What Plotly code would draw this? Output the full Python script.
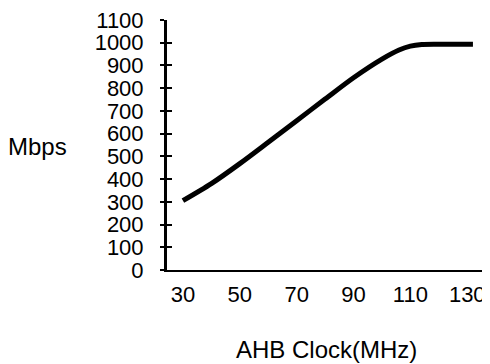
import plotly.graph_objects as go

clock_mhz = [30, 40, 50, 60, 70, 80, 90, 100, 106, 110, 114, 120, 132]
mbps = [305, 380, 468, 562, 657, 752, 846, 928, 968, 985, 992, 993, 993]

x_ticks = [30, 50, 70, 90, 110, 130]
y_ticks = list(range(0, 1101, 100))

FONT = "Liberation Sans, Arial, sans-serif"

fig = go.Figure()
fig.add_trace(go.Scatter(x=clock_mhz, y=mbps, mode="lines",
                         line=dict(color="black", width=5, shape="spline", smoothing=0.8),
                         showlegend=False, hoverinfo="skip"))
# invisible trace on overlaid axis so inner tick marks render
fig.add_trace(go.Scatter(x=clock_mhz, y=mbps, mode="lines", yaxis="y2",
                         line=dict(color="rgba(0,0,0,0)", width=0),
                         showlegend=False, hoverinfo="skip"))

# page body has an 8px margin, so the figure is sized/offset accordingly
fig.update_layout(
    width=482, height=356,
    margin=dict(l=159, r=0, t=9, b=94),
    paper_bgcolor="white", plot_bgcolor="white",
    font=dict(family=FONT, size=22, color="black"),
    xaxis=dict(range=[24.4, 138], tickvals=x_ticks, ticktext=[str(v) for v in x_ticks],
               showgrid=False, zeroline=False, showline=True, linecolor="black",
               linewidth=2, ticks="", ticklabelstandoff=4, ticklabeloverflow="allow",
               tickfont=dict(size=22)),
    yaxis=dict(range=[0, 1100], tickvals=y_ticks, ticktext=[str(v) for v in y_ticks],
               showgrid=False, zeroline=False, showline=True, linecolor="black",
               linewidth=3, ticks="outside", ticklen=4, tickwidth=2, tickcolor="black",
               ticklabelstandoff=12, ticklabeloverflow="allow", tickfont=dict(size=22)),
    yaxis2=dict(range=[0, 1100], tickvals=y_ticks, overlaying="y", side="left",
                showgrid=False, zeroline=False, showline=False, ticks="inside",
                ticklen=5, tickwidth=2, tickcolor="black", showticklabels=False),
    annotations=[
        dict(text="Mbps", x=-0.402, y=0.494, xref="paper", yref="paper",
             showarrow=False, xanchor="center", yanchor="middle", font=dict(size=24)),
        dict(text="AHB Clock(MHz)", x=0.495, y=-0.316, xref="paper", yref="paper",
             showarrow=False, xanchor="center", yanchor="middle", font=dict(size=24)),
    ],
)

fig.write_html("out.html")
